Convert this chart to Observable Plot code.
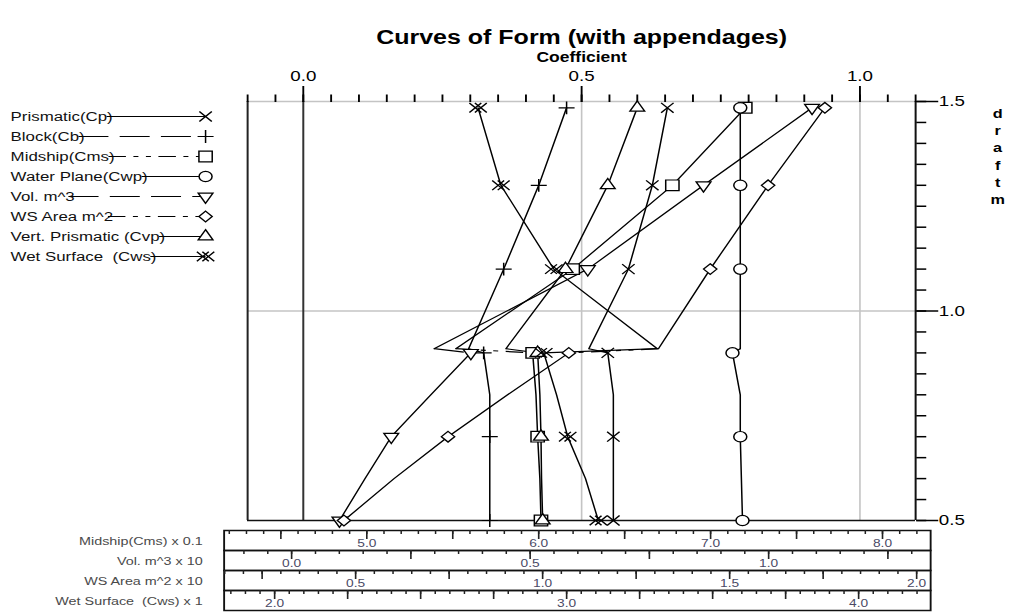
<!DOCTYPE html>
<html>
<head>
<meta charset="utf-8">
<script src="https://cdn.jsdelivr.net/npm/d3@7"></script>
<script src="https://cdn.jsdelivr.net/npm/@observablehq/plot@0.6"></script>
<style>
html, body { margin: 0; padding: 0; background: #fff; overflow: hidden; }
#wrap { position: relative; width: 809px; height: 612px; transform: scaleX(1.24969); transform-origin: 0 0; }
#wrap > svg { position: absolute; left: 0; }
#wrap svg text { white-space: pre; }
</style>
</head>
<body>
<div id="wrap"></div>
<script>
const FONT = '"Liberation Sans", Arial, Helvetica, sans-serif';

// ---------- texts ----------
const titleText = "Curves of Form (with appendages)";
const xLabel = "Coefficient";
const yLabelLetters = "d\nr\na\nf\nt\nm";

// ---------- series ----------
const seriesNames = ["Prismatic(Cp)", "Block(Cb)", "Midship(Cms)", "Water Plane(Cwp)", "Vol. m^3", "WS Area m^2", "Vert. Prismatic (Cvp)", "Wet Surface  (Cws)"];

const upperDrafts = [1.485, 1.3, 1.1, 0.91];
const lowerDrafts = [0.9, 0.8, 0.7, 0.6, 0.5];
const markerDrafts = [1.485, 1.3, 1.1, 0.9, 0.7, 0.5];

const prismaticUpper = [0.654, 0.627, 0.584, 0.513];
const prismaticLower = [0.547, 0.557, 0.557, 0.557, 0.557];
const blockUpper = [0.473, 0.423, 0.360, 0.297];
const blockLower = [0.324, 0.335, 0.335, 0.335, 0.335];
const midshipUpper = [0.794, 0.663, 0.484, 0.274];
const midshipLower = [0.412, 0.418, 0.421, 0.425, 0.427];
const waterPlaneUpper = [0.785, 0.785, 0.785, 0.785];
const waterPlaneLower = [0.771, 0.785, 0.785, 0.787, 0.789];
const volUpper = [0.914, 0.719, 0.511, 0.235];
const volLower = [0.301, 0.229, 0.158, 0.111, 0.065];
const wsAreaUpper = [0.937, 0.835, 0.731, 0.638];
const wsAreaLower = [0.477, 0.367, 0.260, 0.163, 0.073];
const vertPrismaticUpper = [0.600, 0.547, 0.471, 0.364];
const vertPrismaticLower = [0.421, 0.425, 0.427, 0.428, 0.430];
const wetSurfaceUpper = [0.314, 0.355, 0.450, 0.636];
const wetSurfaceLower = [0.432, 0.455, 0.475, 0.507, 0.530];

const upperValues = [prismaticUpper, blockUpper, midshipUpper, waterPlaneUpper, volUpper, wsAreaUpper, vertPrismaticUpper, wetSurfaceUpper];
const lowerValues = [prismaticLower, blockLower, midshipLower, waterPlaneLower, volLower, wsAreaLower, vertPrismaticLower, wetSurfaceLower];

// ---------- axes ----------
const xMajorTicks = [0.0, 0.5, 1.0];
const yMajorTicks = [0.5, 1.0, 1.5];
const gridX = [0.5, 1.0];
const gridY = [1.0, 1.5];
const xMinorTicks = d3.range(-2, 23).map(k => +(k * 0.05).toFixed(3));
const yMinorTicks = d3.range(10, 31).map(k => +(k * 0.05).toFixed(3));

// ---------- bottom multi-scales ----------
const bottomTitles = ["Midship(Cms) x 0.1", "Vol. m^3 x 10", "WS Area m^2 x 10", "Wet Surface  (Cws) x 1"];
const midshipScaleLabels = [5.0, 6.0, 7.0, 8.0];
const volScaleLabels = [0.0, 0.5, 1.0];
const wsScaleLabels = [0.5, 1.0, 1.5, 2.0];
const wetScaleLabels = [2.0, 3.0, 4.0];
const bottomLabels = [midshipScaleLabels, volScaleLabels, wsScaleLabels, wetScaleLabels];
const bottomDomains = [[4.17, 8.28], [-0.1415, 1.3396], [0.1484, 2.0374], [1.827, 4.2466]];
const bottomMinorStep = [0.1, 0.05, 0.05, 0.05];
const bottomMajorStep = [0.5, 0.25, 0.25, 0.25];

// ---------- styles ----------
const triangleDown = {
  draw(context, size) {
    const y = Math.sqrt(size / (Math.sqrt(3) * 3));
    context.moveTo(0, 2 * y);
    context.lineTo(-Math.sqrt(3) * y, -y);
    context.lineTo(Math.sqrt(3) * y, -y);
    context.closePath();
  }
};
const seriesSymbols = ["times", "plus", "square", "circle", triangleDown, "diamond2", "triangle", "times"];
const seriesRadius = [4.6, 4.2, 6, 5.2, 4.4, 4.8, 4.4, 4.4];
const seriesFill = ["none", "none", "white", "white", "white", "white", "white", "none"];
const LONG = "24,9", DASHDOT = "14,6,4,6,4,6";
const seriesDash = [null, LONG, DASHDOT, null, LONG, DASHDOT, null, null];
const seriesDouble = [false, false, false, false, false, false, false, true];

// ---------- build tables ----------
const allPoints = [];
seriesNames.forEach((name, i) => {
  upperDrafts.forEach((d, j) => allPoints.push({name, part: "upper", draft: d, coef: upperValues[i][j]}));
  lowerDrafts.forEach((d, j) => allPoints.push({name, part: "lower", draft: d, coef: lowerValues[i][j]}));
});
const jumps = seriesNames.map((name, i) => ({
  name,
  x1: upperValues[i][upperValues[i].length - 1], y1: upperDrafts[upperDrafts.length - 1],
  x2: lowerValues[i][0], y2: lowerDrafts[0]
}));
const markers = allPoints.filter(p => markerDrafts.includes(p.draft));

function dotMarks(rows, i, x, y) {
  const base = {x, y, symbol: seriesSymbols[i], r: seriesRadius[i], stroke: "black", fill: seriesFill[i], strokeWidth: 1.2};
  if (seriesDouble[i]) {
    return [Plot.dot(rows, {...base, dx: -2.2}), Plot.dot(rows, {...base, dx: 2.2})];
  }
  return [Plot.dot(rows, base)];
}

const wrap = document.getElementById("wrap");

// ---------- main chart ----------
const mainMarks = [
  Plot.ruleX(gridX, {stroke: "#c4c4c4", strokeWidth: 1.3}),
  Plot.ruleY(gridY, {stroke: "#c4c4c4", strokeWidth: 1.3}),
  Plot.ruleX([0], {stroke: "#333", strokeWidth: 1.6}),
  Plot.ruleX([-0.1], {stroke: "#222", strokeWidth: 1.6}),
  Plot.ruleX([1.1], {stroke: "#111", strokeWidth: 1.6}),
  Plot.ruleY([0.5], {stroke: "#111", strokeWidth: 1.6}),
  Plot.line(allPoints, {x: "coef", y: "draft", z: d => d.name + "|" + d.part, stroke: "black", strokeWidth: 1.2})
];
seriesNames.forEach((name, i) => {
  mainMarks.push(Plot.link(jumps.filter(j => j.name === name), {
    x1: "x1", y1: "y1", x2: "x2", y2: "y2", stroke: "black", strokeWidth: 1.2,
    strokeDasharray: seriesDash[i] || undefined
  }));
});
seriesNames.forEach((name, i) => {
  mainMarks.push(...dotMarks(markers.filter(m => m.name === name), i, "coef", "draft"));
});
mainMarks.push(
  Plot.axisX(xMinorTicks, {anchor: "top", tickSize: 7.5, tickFormat: () => "", label: null, strokeWidth: 1.5}),
  Plot.axisX(xMajorTicks, {anchor: "top", tickSize: 16, tickPadding: 5, tickFormat: d => d.toFixed(1), label: null, fontSize: 15, strokeWidth: 1.5}),
  Plot.axisY(yMinorTicks, {anchor: "right", tickSize: 8, tickFormat: () => "", label: null, strokeWidth: 1.5}),
  Plot.axisY(yMajorTicks, {anchor: "right", tickSize: 17.6, tickPadding: 1, tickFormat: d => d.toFixed(1), label: null, fontSize: 15, strokeWidth: 1.5}),
  Plot.text([titleText], {text: d => d, frameAnchor: "top", dy: -64, lineAnchor: "middle", fontSize: 20, fontWeight: "bold"}),
  Plot.text([xLabel], {text: d => d, frameAnchor: "top", dy: -44, lineAnchor: "middle", fontSize: 14, fontWeight: "bold"}),
  Plot.text([yLabelLetters], {text: d => d, frameAnchor: "top-right", dx: 65.6, dy: 4, lineAnchor: "top", textAnchor: "middle", fontSize: 13, fontWeight: "bold", lineHeight: 1.33})
);

const main = Plot.plot({
  width: 809, height: 612,
  marginLeft: 197.65, marginRight: 76.82, marginTop: 101, marginBottom: 92,
  x: {domain: [-0.1, 1.1], axis: null},
  y: {domain: [0.5, 1.5], axis: null},
  style: {background: "white", fontFamily: FONT, color: "black", overflow: "visible"},
  marks: mainMarks
});
main.style.top = "0px";
wrap.appendChild(main);

// ---------- legend ----------
const ctx = document.createElement("canvas").getContext("2d");
ctx.font = `13.5px ${FONT}`;
const legendRows = seriesNames.map(name => ({name, w: ctx.measureText(name).width}));
const legendX0 = 8, legendX1 = 164;
const legendMarks = [
  Plot.text(legendRows, {x: () => legendX0, y: "name", text: "name", textAnchor: "start", fontSize: 13.5, fill: "#111"})
];
seriesNames.forEach((name, i) => {
  legendMarks.push(Plot.link([legendRows[i]], {
    x1: d => legendX0 + d.w - 5, x2: () => legendX1, y1: "name", y2: "name",
    stroke: "black", strokeWidth: 1.2, strokeDasharray: seriesDash[i] || undefined
  }));
});
seriesNames.forEach((name, i) => {
  legendMarks.push(...dotMarks([legendRows[i]], i, () => legendX1, "name"));
});
const legend = Plot.plot({
  width: 190, height: 280, margin: 0,
  x: {domain: [0, 190], range: [0, 190], axis: null},
  y: {type: "point", domain: seriesNames, range: [115, 256.4], padding: 0, axis: null},
  style: {background: "transparent", fontFamily: FONT, overflow: "visible"},
  marks: legendMarks
});
legend.style.top = "0px";
wrap.appendChild(legend);

// ---------- bottom scales ----------
function stepTicks([lo, hi], step) {
  return d3.range(Math.ceil(lo / step - 1e-9), Math.floor(hi / step + 1e-9) + 1).map(k => +(k * step).toFixed(4));
}
bottomTitles.forEach((title, i) => {
  const row = Plot.plot({
    width: 746, height: 22,
    marginLeft: 178.85, marginRight: 1.8, marginTop: 1, marginBottom: 1,
    x: {domain: bottomDomains[i], axis: null},
    style: {background: "transparent", fontFamily: FONT, overflow: "visible"},
    marks: [
      Plot.frame({stroke: "#111", strokeWidth: 1.5}),
      Plot.ruleX(stepTicks(bottomDomains[i], bottomMinorStep[i]), {insetBottom: 16, stroke: "#222", strokeWidth: 1.2}),
      Plot.ruleX(stepTicks(bottomDomains[i], bottomMajorStep[i]), {insetBottom: 11, stroke: "#222", strokeWidth: 1.3}),
      Plot.text(bottomLabels[i], {x: d => d, text: d => d.toFixed(1), frameAnchor: "middle", dy: 2.5, fontSize: 11, fill: "#4a4a66"}),
      Plot.text([title], {text: d => d, frameAnchor: "left", dx: -17.2, dy: 1, textAnchor: "end", fontSize: 11.5, fill: "#4a4a4a"})
    ]
  });
  row.style.top = (529 + 20 * i) + "px";
  wrap.appendChild(row);
});
</script>
</body>
</html>
